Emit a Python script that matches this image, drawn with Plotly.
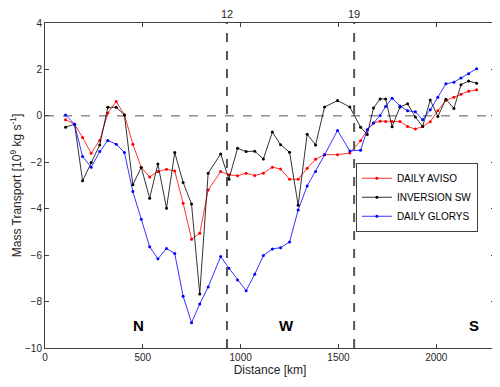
import plotly.graph_objects as go

# distance along the section [km]
distance = [105, 151, 192, 236, 280, 321, 364, 406, 449, 492,
            535, 577, 621, 663, 706, 749, 791, 834, 898, 940,
            984, 1028, 1072, 1116, 1162, 1204, 1250, 1294, 1340, 1383,
            1429, 1495, 1558, 1613, 1647, 1679, 1713, 1741, 1774, 1814,
            1853, 1893, 1930, 1969, 2008, 2049, 2090, 2126, 2165, 2206]

daily_aviso = [-0.17, -0.36, -0.93, -1.61, -1.06, 0.12, 0.62, 0.04, -1.22, -2.22,
               -2.63, -2.40, -2.30, -2.38, -3.76, -5.31, -5.06, -3.19, -2.40, -2.54,
               -2.58, -2.47, -2.57, -2.47, -2.21, -2.29, -2.73, -2.73, -2.26, -1.87,
               -1.67, -1.67, -1.60, -1.07, -0.60, -0.31, -0.23, -0.24, -0.24, -0.24,
               -0.46, -0.57, -0.46, -0.25, 0.22, 0.67, 0.80, 0.93, 1.06, 1.12]

inversion_sw = [-0.49, -0.36, -2.80, -2.01, -1.25, 0.37, 0.37, 0.04, -2.97, -2.22,
                -3.55, -2.07, -3.98, -1.58, -2.87, -3.80, -7.67, -2.47, -1.64, -2.73,
                -1.40, -1.54, -1.52, -1.86, -0.70, -1.24, -1.57, -3.85, -0.79, -1.25,
                0.38, 0.66, 0.38, -0.49, -0.80, 0.34, 0.73, 0.73, -0.47, 0.38,
                0.52, -0.05, -0.46, 0.68, -0.03, 0.72, 0.32, 1.34, 1.50, 1.41]

daily_glorys = [0.04, -0.36, -1.75, -2.21, -1.54, -1.06, -1.22, -1.58, -3.26, -4.45,
                -5.64, -6.16, -5.71, -5.93, -7.77, -8.91, -8.10, -7.37, -6.06, -6.56,
                -7.07, -7.53, -6.82, -6.02, -5.73, -5.68, -5.43, -4.05, -3.02, -2.40,
                -1.68, -0.63, -1.51, -1.48, -0.60, -0.31, 0.02, 0.40, 0.76, 0.43,
                0.22, 0.18, -0.17, 0.26, 0.80, 1.38, 1.45, 1.63, 1.81, 2.03]

section_bounds = [930, 1580]
section_labels = ["12", "19"]
region_names = ["N", "W", "S"]
region_x = [476, 1235, 2195]

FONT = "Arial, Liberation Sans, sans-serif"
series = [
    ("DAILY AVISO", daily_aviso, "#ff0000"),
    ("INVERSION SW", inversion_sw, "#000000"),
    ("DAILY GLORYS", daily_glorys, "#0000ff"),
]

fig = go.Figure()
for name, values, color in series:
    fig.add_trace(
        go.Scatter(
            x=distance,
            y=values,
            mode="lines+markers",
            name=name,
            line={"color": color, "width": 0.8},
            marker={"color": color, "size": 3},
        )
    )

shapes = [
    {
        "type": "line", "xref": "paper", "yref": "y",
        "x0": 0, "x1": 1, "y0": 0, "y1": 0,
        "line": {"color": "#555555", "width": 1, "dash": "dash"},
        "layer": "below",
    }
]
annotations = []
for bound, label in zip(section_bounds, section_labels):
    shapes.append(
        {
            "type": "line", "xref": "x", "yref": "paper",
            "x0": bound, "x1": bound, "y0": 0, "y1": 1,
            "line": {"color": "#555555", "width": 2, "dash": "dash"},
        }
    )
    annotations.append(
        {
            "x": bound, "y": 1, "xref": "x", "yref": "paper",
            "text": label, "showarrow": False, "yanchor": "bottom",
            "yshift": 1, "font": {"size": 11, "color": "#262626", "family": FONT},
        }
    )
for name, xpos in zip(region_names, region_x):
    annotations.append(
        {
            "x": xpos, "y": -9.05, "xref": "x", "yref": "y",
            "text": f"<b>{name}</b>", "showarrow": False,
            "font": {"size": 15, "color": "#000000", "family": FONT},
        }
    )

axis_common = {
    "showline": True,
    "linecolor": "#404040",
    "linewidth": 1,
    "mirror": "ticks",
    "ticks": "inside",
    "ticklen": 4,
    "tickcolor": "#404040",
    "showgrid": False,
    "zeroline": False,
    "automargin": False,
    "tickfont": {"size": 10, "color": "#262626", "family": FONT},
}

# the page body keeps its 8px default margin, so the figure is 8px smaller
fig.update_layout(
    width=492,
    height=379,
    margin={"l": 37, "r": 5, "t": 15, "b": 39},
    paper_bgcolor="white",
    plot_bgcolor="white",
    shapes=shapes,
    annotations=annotations,
    xaxis={
        **axis_common,
        "range": [0, 2300],
        "tickvals": [0, 500, 1000, 1500, 2000],
        "title": {"text": "Distance [km]", "font": {"size": 12, "color": "#262626", "family": FONT},
                  "standoff": 2},
    },
    yaxis={
        **axis_common,
        "range": [-10, 4],
        "tickvals": [-10, -8, -6, -4, -2, 0, 2, 4],
        "title": {"text": "Mass Transport [10<sup>9</sup> kg s<sup>-1</sup>]",
                  "font": {"size": 12, "color": "#262626", "family": FONT}, "standoff": 4},
    },
    legend={
        "x": 0.962,
        "y": 0.57,
        "xanchor": "right",
        "yanchor": "top",
        "bgcolor": "white",
        "bordercolor": "#404040",
        "borderwidth": 1,
        "font": {"size": 10, "color": "#000000", "family": FONT},
        "tracegroupgap": 0,
        "itemwidth": 30,
    },
)

fig.write_html("out.html")
